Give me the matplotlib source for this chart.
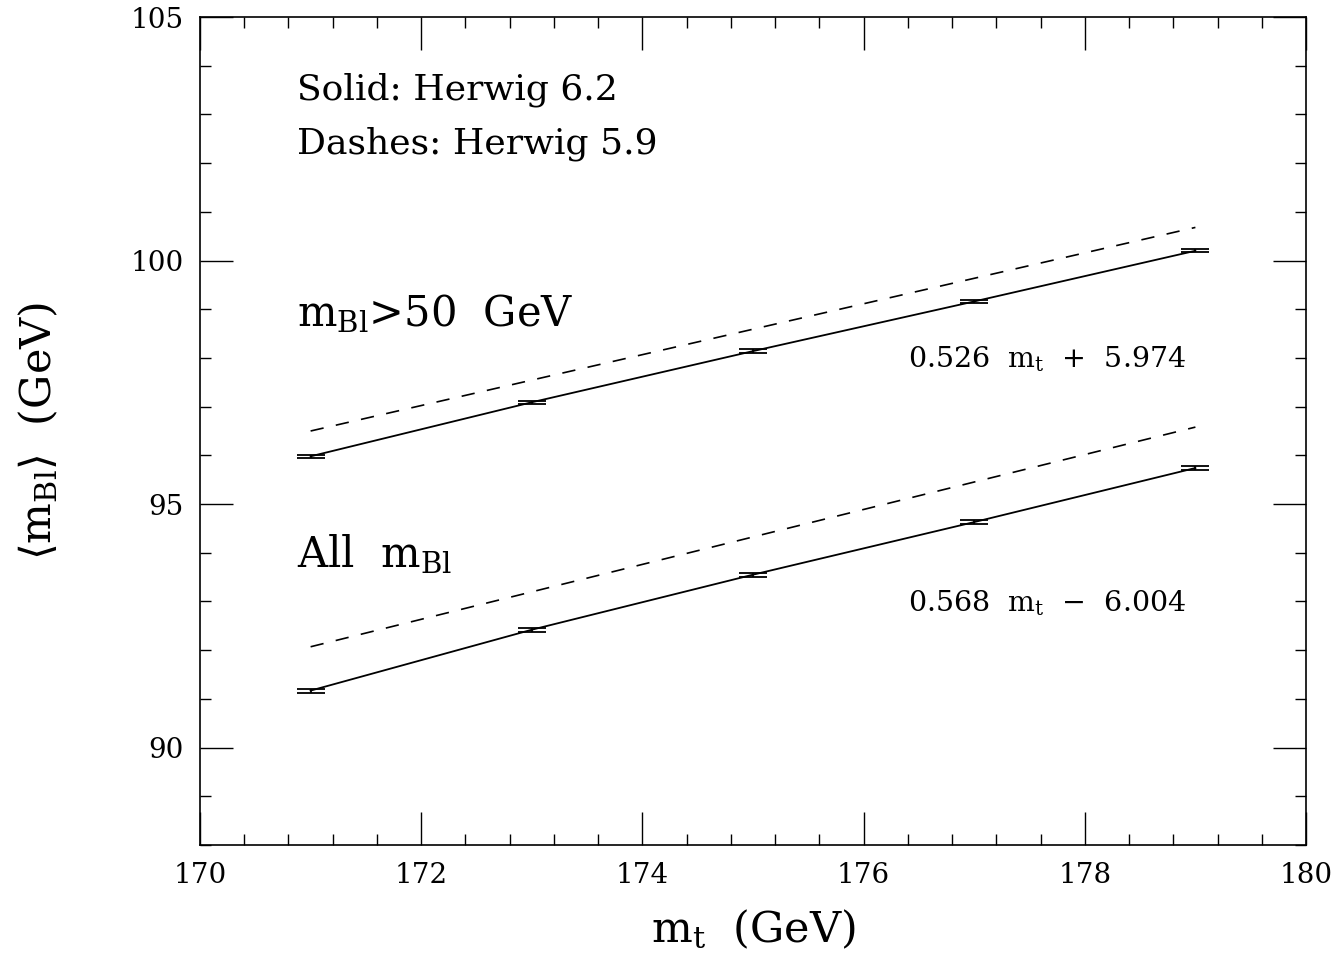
import matplotlib
matplotlib.use("Agg")
import matplotlib.pyplot as plt
from matplotlib.ticker import MultipleLocator
import numpy as np

# ---- data ----
mt = [171, 173, 175, 177, 179]
mbl_cut = [95.98, 97.09, 98.14, 99.16, 100.20]     # m_Bl > 50 GeV, Herwig 6.2
mbl_cut_err = [0.035, 0.035, 0.035, 0.035, 0.035]
mbl_all = [91.17, 92.42, 93.55, 94.63, 95.74]       # all m_Bl, Herwig 6.2
mbl_all_err = [0.04, 0.04, 0.04, 0.04, 0.04]
mt_dash = [171, 179]
dash_cut = [96.50, 100.68]                          # Herwig 5.9
dash_all = [92.07, 96.58]
x_ticks = [170, 172, 174, 176, 178, 180]
y_ticks = [90, 95, 100, 105]

plt.rcParams['font.family'] = ['DejaVu Serif']
plt.rcParams['mathtext.fontset'] = 'dejavuserif'

fig = plt.figure(figsize=(13.41, 9.55), dpi=100)
ax = fig.add_axes([200/1341, 1-845/955, (1306-200)/1341, (845-17)/955])

ax.errorbar(mt, mbl_cut, yerr=mbl_cut_err, color='black', lw=1.3,
            capsize=10, capthick=1.3, elinewidth=1.3)
ax.errorbar(mt, mbl_all, yerr=mbl_all_err, color='black', lw=1.3,
            capsize=10, capthick=1.3, elinewidth=1.3)
ax.plot(mt_dash, dash_cut, color='black', lw=1.2, dashes=(8, 7.5))
ax.plot(mt_dash, dash_all, color='black', lw=1.2, dashes=(8, 7.5))

ax.set_xlim(170, 180)
ax.set_ylim(88, 105)
ax.set_xticks(x_ticks)
ax.set_yticks(y_ticks)
ax.xaxis.set_minor_locator(MultipleLocator(0.4))
ax.yaxis.set_minor_locator(MultipleLocator(1))
ax.tick_params(which='both', direction='in', top=True, right=True,
               labelsize=20, width=1.0, pad=12)
ax.tick_params(which='major', length=24)
ax.tick_params(which='minor', length=8)
for s in ax.spines.values():
    s.set_linewidth(1.2)

ax.set_xlabel(r'm$_{\rm t}$  (GeV)', fontsize=31, labelpad=14)
ax.set_ylabel(r'$\langle$m$_{\rm Bl}\rangle$  (GeV)', fontsize=31, labelpad=50)

ax.text(170.88, 103.3, 'Solid: Herwig 6.2', fontsize=26)
ax.text(170.88, 102.2, 'Dashes: Herwig 5.9', fontsize=26)
ax.text(170.88, 98.65, r'm$_{\rm Bl}$>50  GeV', fontsize=30)
ax.text(170.88, 93.7, r'All  m$_{\rm Bl}$', fontsize=30)
ax.text(176.4, 97.8, r'0.526  m$_{\rm t}$  +  5.974', fontsize=20.5)
ax.text(176.4, 92.8, r'0.568  m$_{\rm t}$  −  6.004', fontsize=20.5)

fig.savefig('out.png', dpi=100)
